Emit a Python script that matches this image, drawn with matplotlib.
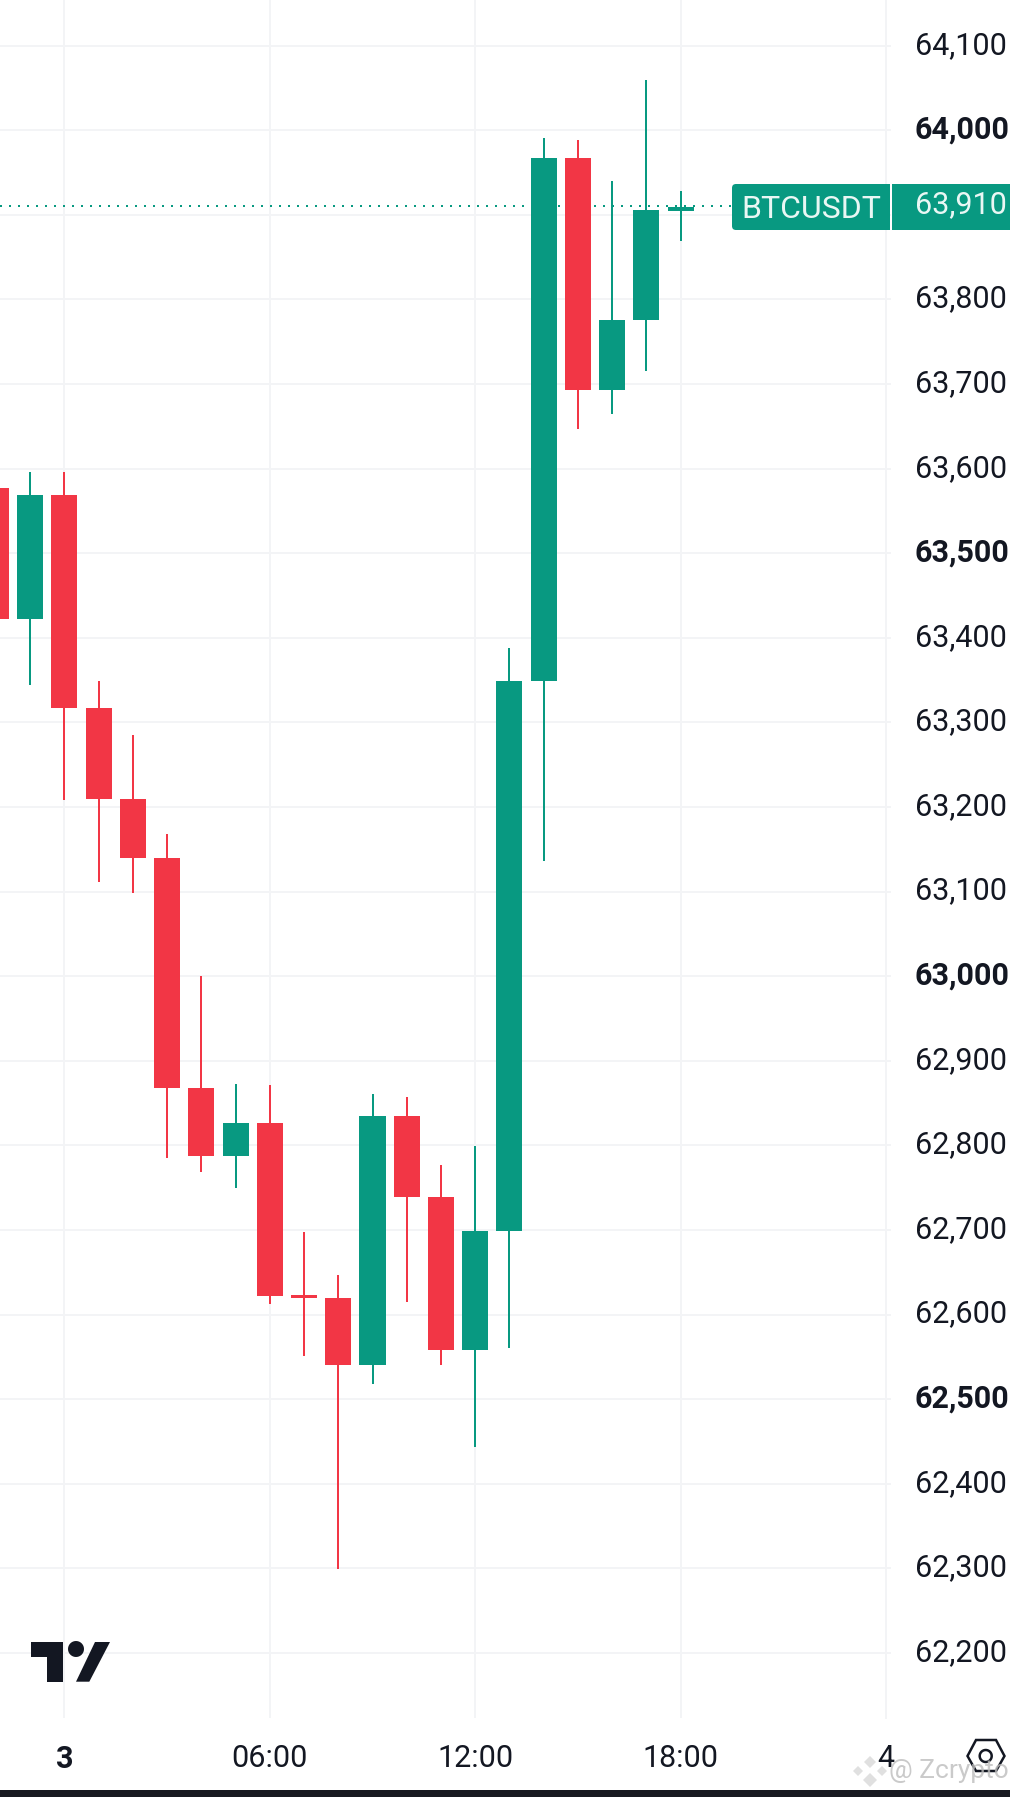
import matplotlib
matplotlib.use('Agg')
import numpy as np
import matplotlib.pyplot as plt
from matplotlib.patches import Polygon, Rectangle, FancyBboxPatch
from matplotlib.transforms import Affine2D, ScaledTranslation

plt.rcParams['font.family'] = ['Roboto', 'DejaVu Sans']

# hourly candles, hour 0 = day 3 00:00
hours = list(range(-2, 19))
opens = [63577, 63422, 63569, 63317, 63210, 63140, 62868, 62788, 62826, 62623, 62619,
         62540, 62835, 62739, 62558, 62699, 63349, 63967, 63693, 63776, 63905]
closes = [63422, 63569, 63317, 63210, 63140, 62868, 62788, 62826, 62622, 62619, 62540,
          62835, 62739, 62558, 62699, 63349, 63967, 63693, 63776, 63906, 63909]
highs = [63600, 63596, 63596, 63349, 63285, 63168, 63000, 62873, 62871, 62698, 62647,
         62861, 62857, 62777, 62799, 63388, 63991, 63989, 63940, 64059, 63928]
lows = [63400, 63344, 63208, 63111, 63098, 62785, 62769, 62750, 62612, 62551, 62299,
        62518, 62615, 62540, 62444, 62560, 63136, 63647, 63665, 63715, 63869]

price_ticks = list(range(62200, 64101, 100))
bold_prices = [62500, 63000, 63500, 64000]
hidden_prices = [63900]  # sits under the price tag
time_ticks = [0, 6, 12, 18, 24]
time_labels = ['3', '06:00', '12:00', '18:00', '4']
last_price = 63910

GREEN = '#089981'
RED = '#f23645'
GRID = '#f3f4f6'
TEXT = '#131722'
W, H = 1010, 1797


def fx(x):
    return x / W


def fy(y):
    return 1 - y / H


def pts(points):
    return [(fx(x), fy(y)) for x, y in points]


fig = plt.figure(figsize=(W / 100, H / 100), dpi=100, facecolor='white')
ax = fig.add_axes([0, fy(1717.7), fx(886), 1717.7 / H])
ax.set_xlim(-64.4 / 34.23, 24)
ax.set_ylim(62123.4, 64154)

# grid and axes
ax.grid(True, color=GRID, linewidth=1.44)
ax.set_axisbelow(True)
for side in ['left', 'top', 'bottom']:
    ax.spines[side].set_visible(False)
ax.spines['right'].set_color(GRID)
ax.spines['right'].set_linewidth(1.44)

ax.yaxis.tick_right()
ax.set_yticks(price_ticks)
ax.set_yticklabels(['' if p in hidden_prices else f'{p:,}' for p in price_ticks])
ax.tick_params(axis='y', length=3.6, width=1.44, color=GRID, pad=17,
               labelsize=22, labelcolor=TEXT)
ax.set_xticks(time_ticks)
ax.set_xticklabels(time_labels)
ax.tick_params(axis='x', length=0, pad=19, labelsize=22, labelcolor=TEXT)
up = ScaledTranslation(0, 3.5 / 100, fig.dpi_scale_trans)
for lab, p in zip(ax.get_yticklabels(), price_ticks):
    lab.set_transform(lab.get_transform() + up)
    if p in bold_prices:
        lab.set_fontweight('bold')
ax.get_xticklabels()[0].set_fontweight('bold')

# last price line
ax.axhline(last_price, color=GREEN, linewidth=1.44, linestyle=(0, (1, 3.5)), zorder=2)

# candles
colors = [GREEN if c >= o else RED for o, c in zip(opens, closes)]
ax.vlines(hours, lows, highs, colors=colors, linewidth=1.44, zorder=3)
bottoms = [min(o, c) for o, c in zip(opens, closes)]
heights = [abs(c - o) for o, c in zip(opens, closes)]
ax.bar(hours, heights, bottom=bottoms, width=0.76, color=colors, linewidth=0, zorder=4)

# price tag on the right
px = Affine2D().scale(1 / W, 1 / H) + fig.transFigure
tag_y0, tag_y1 = 184, 230
fig.add_artist(FancyBboxPatch((736, H - tag_y1 + 4), 150, tag_y1 - tag_y0 - 8,
                              boxstyle='round,pad=4', facecolor=GREEN, edgecolor='none',
                              transform=px, zorder=5))
fig.add_artist(Rectangle((fx(760), fy(tag_y1)), fx(130), (tag_y1 - tag_y0) / H,
                         facecolor=GREEN, edgecolor='none', transform=fig.transFigure, zorder=5))
fig.add_artist(Rectangle((fx(892), fy(tag_y1)), fx(118), (tag_y1 - tag_y0) / H,
                         facecolor=GREEN, edgecolor='none', transform=fig.transFigure, zorder=5))
fig.text(fx(811), fy(209), 'BTCUSDT', color='#e9f7f4', fontsize=23, ha='center', va='center', zorder=6)
fig.text(fx(915), fy(205), f'{last_price:,}', color='#e9f7f4', fontsize=22, ha='left', va='center', zorder=6)

# TradingView logo
LOGO = '#131722'
fig.add_artist(Polygon(pts([(31.3, 1642), (62.7, 1642), (62.7, 1681.7), (46.7, 1681.7),
                            (46.7, 1657), (31.3, 1657)]),
                       facecolor=LOGO, edgecolor='none', transform=fig.transFigure, zorder=5))
fig.add_artist(Polygon(pts([(95, 1642), (110, 1642), (89.3, 1681.7), (76, 1681.7)]),
                       facecolor=LOGO, edgecolor='none', transform=fig.transFigure, zorder=5))
t = np.linspace(0, 2 * np.pi, 40)
fig.add_artist(Polygon(pts(list(zip(76 + 8 * np.cos(t), 1649 + 8 * np.sin(t)))),
                       facecolor=LOGO, edgecolor='none', transform=fig.transFigure, zorder=5))

# settings icon
fig.add_artist(Polygon(pts([(967.5, 1756), (976, 1740), (996, 1740), (1004.5, 1756), (996, 1771), (976, 1771)]),
                       closed=True, facecolor='none', edgecolor=TEXT, linewidth=1.8,
                       transform=fig.transFigure, zorder=5))
fig.add_artist(Polygon(pts(list(zip(985.7 + 6 * np.cos(t), 1756 + 6 * np.sin(t)))),
                       facecolor='none', edgecolor=TEXT, linewidth=1.8,
                       transform=fig.transFigure, zorder=5))

# watermark
for cx, cy, r in [(870, 1762, 6), (858, 1771, 5), (882, 1771, 5), (870, 1780, 7)]:
    fig.add_artist(Polygon(pts([(cx, cy - r), (cx + r, cy), (cx, cy + r), (cx - r, cy)]),
                           facecolor='#d9d9d9', edgecolor='none', alpha=0.8,
                           transform=fig.transFigure, zorder=6))
fig.text(fx(889), fy(1771), '@ Zcrypto', color='#bdbdbd', alpha=0.8, fontsize=19,
         ha='left', va='center', zorder=6)

# bottom strip
fig.add_artist(Rectangle((0, 0), 1, 7 / H, facecolor='#181a20', edgecolor='none',
                         transform=fig.transFigure, zorder=7))

fig.savefig('out.png', dpi=100)
